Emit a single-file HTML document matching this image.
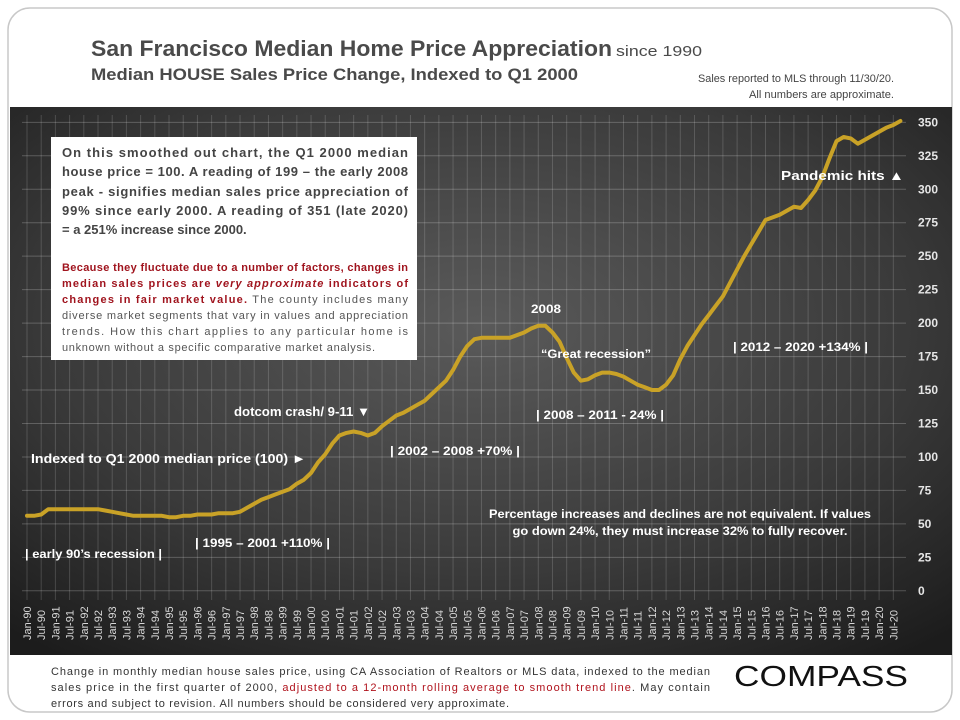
<!DOCTYPE html>
<html><head><meta charset="utf-8"><style>
html,body{margin:0;padding:0;background:#fff;}
svg{display:block;font-family:"Liberation Sans",sans-serif;}
</style></head><body>
<svg width="960" height="720" viewBox="0 0 960 720">
<defs>
<radialGradient id="bg" cx="0.5" cy="0.4" r="0.75">
<stop offset="0" stop-color="#5a5a5a"/><stop offset="0.6" stop-color="#3a3a3a"/><stop offset="1" stop-color="#1c1c1c"/>
</radialGradient>
</defs>
<rect x="8" y="8" width="944" height="704" rx="22" fill="#fff" stroke="#c8c8c8" stroke-width="1.5"/>
<rect x="10" y="107" width="942" height="548" fill="url(#bg)"/>
<text x="91" y="56" font-size="22" font-weight="bold" fill="#4a4a4a" textLength="521" lengthAdjust="spacingAndGlyphs">San Francisco Median Home Price Appreciation</text>
<text x="616" y="56" font-size="15" fill="#4a4a4a" textLength="86" lengthAdjust="spacingAndGlyphs">since 1990</text>
<text x="91" y="80" font-size="17" font-weight="bold" fill="#4a4a4a" textLength="487" lengthAdjust="spacingAndGlyphs">Median HOUSE Sales Price Change, Indexed to Q1 2000</text>
<text x="894" y="82" font-size="11" fill="#444" text-anchor="end" textLength="196" lengthAdjust="spacingAndGlyphs">Sales reported to MLS through 11/30/20.</text>
<text x="894" y="98" font-size="11" fill="#444" text-anchor="end" textLength="145" lengthAdjust="spacingAndGlyphs">All numbers are approximate.</text>
<g id="grid"></g>
<g id="yticks"></g>
<g id="xticks"></g>
<path id="line" fill="none" stroke="#c9a227" stroke-width="4" stroke-linejoin="round" stroke-linecap="round"/>
<g>
<rect x="51" y="137" width="366" height="223" fill="#fff"/>
<g font-size="13" font-weight="bold" fill="#444">
<text x="62" y="157" textLength="346" lengthAdjust="spacing">On this smoothed out chart, the Q1 2000 median</text>
<text x="62" y="176" textLength="346" lengthAdjust="spacing">house price = 100. A reading of 199 – the early 2008</text>
<text x="62" y="196" textLength="346" lengthAdjust="spacing">peak - signifies median sales price appreciation of</text>
<text x="62" y="215" textLength="346" lengthAdjust="spacing">99% since early 2000.  A reading of 351 (late  2020)</text>
<text x="62" y="234">= a 251% increase since 2000.</text>
</g>
<g font-size="11">
<text x="62" y="271" fill="#a0141e" font-weight="bold" textLength="346" lengthAdjust="spacing">Because they fluctuate due to a number of factors, changes in</text>
<text x="62" y="287" fill="#a0141e" font-weight="bold" textLength="346" lengthAdjust="spacing">median sales prices are <tspan font-style="italic">very approximate</tspan> indicators of</text>
<text x="62" y="303" textLength="346" lengthAdjust="spacing"><tspan fill="#a0141e" font-weight="bold">changes in fair market value.</tspan><tspan fill="#555"> The county includes many</tspan></text>
<text x="62" y="319" fill="#555" textLength="346" lengthAdjust="spacing">diverse market segments that vary in values and appreciation</text>
<text x="62" y="335" fill="#555" textLength="346" lengthAdjust="spacing">trends. How this chart applies to any particular home is</text>
<text x="62" y="351" fill="#555" textLength="313" lengthAdjust="spacing">unknown without a specific comparative market analysis.</text>
</g>
</g>
<g fill="#fff" font-weight="bold" font-size="13">
<text x="781" y="180" textLength="123" lengthAdjust="spacingAndGlyphs">Pandemic hits ▲</text>
<text x="531" y="313" font-size="12" textLength="30" lengthAdjust="spacingAndGlyphs">2008</text>
<text x="541" y="358" font-size="12" textLength="110" lengthAdjust="spacingAndGlyphs">“Great recession”</text>
<text x="733" y="351" font-size="12" textLength="135" lengthAdjust="spacingAndGlyphs">| 2012  – 2020  +134% |</text>
<text x="536" y="419" font-size="12" textLength="128" lengthAdjust="spacingAndGlyphs">| 2008  – 2011  - 24% |</text>
<text x="234" y="416" textLength="136" lengthAdjust="spacingAndGlyphs">dotcom crash/ 9-11 ▼</text>
<text x="390" y="455" font-size="12" textLength="130" lengthAdjust="spacingAndGlyphs">| 2002  – 2008  +70% |</text>
<text x="31" y="463" textLength="275" lengthAdjust="spacingAndGlyphs">Indexed to Q1 2000  median price (100) ►</text>
<text x="680" y="518" font-size="12" text-anchor="middle" textLength="382" lengthAdjust="spacingAndGlyphs">Percentage increases and declines are not equivalent. If values</text>
<text x="680" y="535" font-size="12" text-anchor="middle" textLength="335" lengthAdjust="spacingAndGlyphs">go down 24%, they must increase 32% to fully recover.</text>
<text x="195" y="547" font-size="12" textLength="135" lengthAdjust="spacingAndGlyphs">| 1995  – 2001  +110% |</text>
<text x="25" y="558" font-size="12" textLength="137" lengthAdjust="spacingAndGlyphs">| early 90’s recession |</text>
</g>
<g font-size="11" fill="#333">
<text x="51" y="675" textLength="659" lengthAdjust="spacing">Change in monthly median house sales price, using CA Association of Realtors or MLS data, indexed to the median</text>
<text x="51" y="691" textLength="659" lengthAdjust="spacing">sales price in the first quarter of 2000, <tspan fill="#b0121c">adjusted to a 12-month rolling average to smooth trend line</tspan>.  May contain</text>
<text x="51" y="707" textLength="458" lengthAdjust="spacing">errors and subject to revision. All numbers should be considered very approximate.</text>
</g>
<text x="734" y="686" font-size="29" fill="#111" textLength="174" lengthAdjust="spacingAndGlyphs">COMPASS</text>
<script>
var yTicks=[0,25,50,75,100,125,150,175,200,225,250,275,300,325,350];
var xLabelsYears=[90,91,92,93,94,95,96,97,98,99,0,1,2,3,4,5,6,7,8,9,10,11,12,13,14,15,16,17,18,19,20];
var quarterlyValues=[56,56,57,61,61,61,61,61,61,61,61,60,59,58,57,56,56,56,56,56,55,55,56,56,57,57,57,58,58,58,59,62,65,68,70,72,74,76,80,83,88,96,102,110,116,118,119,118,116,118,123,127,131,133,136,139,142,147,152,157,165,175,183,188,189,189,189,189,189,191,193,196,198,198,193,186,174,163,157,158,161,163,163,162,160,157,154,152,150,150,154,161,173,183,191,199,206,213,220,230,240,250,259,268,277,279,281,284,287,286,292,299,309,323,336,339,338,334,337,340,343,346,348,351];
var NS='http://www.w3.org/2000/svg';
function xScale(month){return 27+month*2.367;}
function yScale(v){return 590.8-v*1.3385;}
var grid=document.getElementById('grid'),yt=document.getElementById('yticks'),xt=document.getElementById('xticks');
yTicks.forEach(function(v){
 var l=document.createElementNS(NS,'line');
 
 
 l.setAttribute('x1',22);l.setAttribute('x2',906);l.setAttribute('y1',yScale(v));l.setAttribute('y2',yScale(v));
 l.setAttribute('stroke','rgba(255,255,255,0.22)');l.setAttribute('stroke-width','1');grid.appendChild(l);
 var t=document.createElementNS(NS,'text');
 
 
 t.setAttribute('x',918);t.setAttribute('y',yScale(v)+4);t.setAttribute('font-size','12');t.setAttribute('font-weight','bold');t.setAttribute('fill','#e6e6e6');
 t.textContent=v;yt.appendChild(t);
});
var labels=[];
xLabelsYears.forEach(function(y){var s=(y<10?'0':'')+y;labels.push('Jan-'+s);labels.push('Jul-'+s);});
labels.forEach(function(lab,i){
 var x=xScale(i*6);
 var l=document.createElementNS(NS,'line');
 
 
 l.setAttribute('x1',x);l.setAttribute('x2',x);l.setAttribute('y1',115);l.setAttribute('y2',600);
 l.setAttribute('stroke','rgba(255,255,255,0.16)');l.setAttribute('stroke-width','1');grid.appendChild(l);
 var t=document.createElementNS(NS,'text');
 
 
 t.setAttribute('transform','translate('+(x+4)+',640) rotate(-90)');t.setAttribute('font-size','11');t.setAttribute('fill','#d8d8d8');
 t.textContent=lab;xt.appendChild(t);
});
var d='';
quarterlyValues.forEach(function(v,i){d+=(i?'L':'M')+xScale(i*3).toFixed(1)+','+yScale(v).toFixed(1);});
document.getElementById('line').setAttribute('d',d);
</script>
</svg>
</body></html>
